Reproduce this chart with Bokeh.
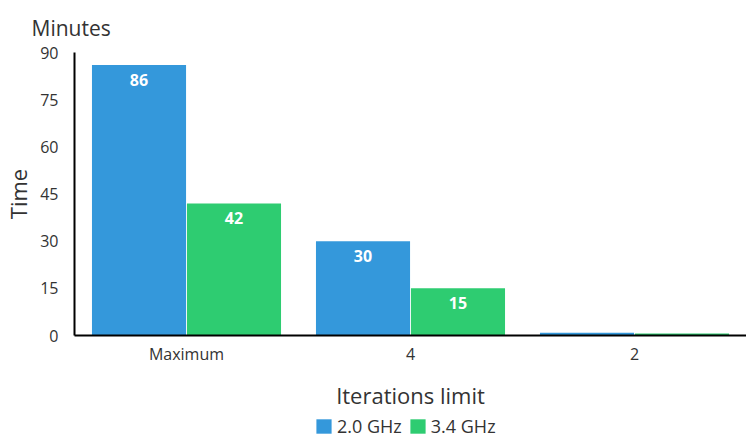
from bokeh.plotting import figure
from bokeh.layouts import column
from bokeh.models import ColumnDataSource, FactorRange, Range1d, FixedTicker, Legend, LegendItem
from bokeh.transform import dodge
from bokeh.core.properties import value
from bokeh.embed import file_html
from bokeh.resources import INLINE

categories = ["Maximum", "4", "2"]
series_names = ["2.0 GHz", "3.4 GHz"]
ghz_2_0 = [86, 30, 0.9]
ghz_3_4 = [42, 15, 0.6]
y_ticks = [0, 15, 30, 45, 60, 75, 90]

BLUE = "#3498db"
GREEN = "#2ecc71"
FONT = "Open Sans"
TXT = "#333333"

source = ColumnDataSource(dict(
    cat=categories,
    a=ghz_2_0,
    b=ghz_3_4,
    la=[str(v) if v >= 5 else "" for v in ghz_2_0],
    lb=[str(v) if v >= 5 else "" for v in ghz_3_4],
))

p = figure(x_range=FactorRange(*categories, range_padding=0), y_range=Range1d(0, 90),
           width=746, height=412, output_backend="svg", toolbar_location=None,
           title="Minutes", min_border_left=73, min_border_right=0, min_border_top=51,
           min_border_bottom=77)

p.title.text_font = FONT
p.title.text_font_size = "21px"
p.title.text_font_style = "normal"
p.title.text_color = TXT
p.title.align = "left"
p.title.offset = -43
p.title.standoff = 22

r1 = p.vbar(x=dodge("cat", -0.212, range=p.x_range), top="a", width=0.42, source=source,
            fill_color=BLUE, line_color=None)
r2 = p.vbar(x=dodge("cat", 0.212, range=p.x_range), top="b", width=0.42, source=source,
            fill_color=GREEN, line_color=None)

for off, col, lab in [(-0.212, "a", "la"), (0.212, "b", "lb")]:
    p.text(x=dodge("cat", off, range=p.x_range), y=col, text=lab, source=source,
           text_align="center", text_baseline="middle", y_offset=15,
           text_color="white", text_font=value(FONT), text_font_style="bold",
           text_font_size="16px")

p.xgrid.grid_line_color = None
p.ygrid.grid_line_color = None
p.outline_line_color = None

p.yaxis.ticker = FixedTicker(ticks=y_ticks)
p.yaxis.axis_label = "Time"
p.xaxis.axis_label = "Iterations limit"
for ax in (p.xaxis, p.yaxis):
    ax.axis_line_color = "black"
    ax.axis_line_width = 2
    ax.major_tick_line_color = None
    ax.minor_tick_line_color = None
    ax.major_label_text_font = FONT
    ax.major_label_text_font_size = "16px"
    ax.major_label_text_color = TXT
    ax.axis_label_text_font = FONT
    ax.axis_label_text_font_size = "22px"
    ax.axis_label_text_font_style = "normal"
    ax.axis_label_text_color = TXT
p.yaxis.major_label_standoff = 10
p.yaxis.axis_label_standoff = 4
p.xaxis.major_label_standoff = 1
p.xaxis.axis_label_standoff = 12

# legend strip below the chart
lg = figure(width=746, height=27, output_backend="svg", toolbar_location=None,
            x_axis_type=None, y_axis_type=None, x_range=Range1d(0, 1), y_range=Range1d(0, 1),
            min_border_left=0, min_border_right=0, min_border_top=0, min_border_bottom=0)
lg.outline_line_color = None
lg.xgrid.grid_line_color = None
lg.ygrid.grid_line_color = None
# hidden swatch renderers (outside the visible range) used only for legend glyphs
sw1 = lg.vbar(x=[-5], top=[-5], bottom=[-6], width=0.1, fill_color=BLUE, line_color=None)
sw2 = lg.vbar(x=[-5], top=[-5], bottom=[-6], width=0.1, fill_color=GREEN, line_color=None)
legend = Legend(items=[LegendItem(label=series_names[0], renderers=[sw1]),
                       LegendItem(label=series_names[1], renderers=[sw2])],
                orientation="horizontal", location=(240, 1),
                glyph_width=19, glyph_height=18, label_standoff=4, spacing=6,
                padding=0, margin=0, border_line_color=None, background_fill_alpha=0,
                label_text_font=FONT, label_text_font_size="18px", label_text_color=TXT)
lg.add_layout(legend, "center")

layout = column(p, lg, spacing=0)
open("out.html", "w").write(file_html(layout, INLINE))
